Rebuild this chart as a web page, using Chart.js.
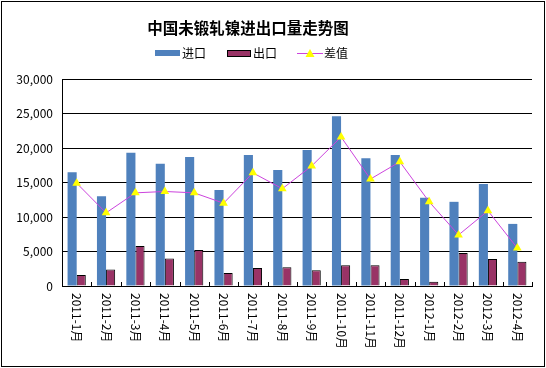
<!DOCTYPE html>
<html>
<head>
<meta charset="utf-8">
<script src="https://cdn.jsdelivr.net/npm/chart.js@4/dist/chart.umd.min.js"></script>
<style>
body { margin: 0; background: #fff; }
</style>
</head>
<body>
<canvas id="grafico" width="546" height="368"></canvas>
<script>
// datos
var titulo = "中国未锻轧镍进出口量走势图";
var meses = ["2011-1月", "2011-2月", "2011-3月", "2011-4月", "2011-5月", "2011-6月", "2011-7月", "2011-8月",
    "2011-9月", "2011-10月", "2011-11月", "2011-12月", "2012-1月", "2012-2月", "2012-3月", "2012-4月"];
var importacion = [16500, 13000, 19300, 17700, 18700, 13900, 19000, 16800, 19700, 24600, 18500, 19000, 12800, 12200, 14800, 9000];
var exportacion = [1600, 2400, 5800, 4000, 5200, 1900, 2600, 2700, 2300, 3000, 3000, 1000, 600, 4800, 3900, 3500];
var diferencia = [14900, 10600, 13500, 13700, 13500, 12000, 16400, 14100, 17400, 21600, 15500, 18000, 12200, 7400, 10900, 5500];
var ticksY = [0, 5000, 10000, 15000, 20000, 25000, 30000];

var fuente = "'Noto Sans CJK SC', 'Liberation Sans', sans-serif";

// titulo, leyenda, etiquetas giradas y marco
var extras = {
    id: 'extras',
    beforeDraw: function (chart) {
        var ctx = chart.ctx;
        ctx.save();
        ctx.fillStyle = '#fff';
        ctx.fillRect(0, 0, chart.width, chart.height);
        ctx.restore();
    },
    afterDraw: function (chart) {
        var ctx = chart.ctx;
        var area = chart.chartArea;
        var x = chart.scales.x;
        ctx.save();

        // marco exterior
        ctx.strokeStyle = '#000';
        ctx.lineWidth = 1;
        ctx.strokeRect(1.5, 1.5, chart.width - 3, chart.height - 3);

        // titulo
        ctx.fillStyle = '#000';
        ctx.font = "bold 15.5px " + fuente;
        ctx.textAlign = 'center';
        ctx.textBaseline = 'middle';
        ctx.fillText(titulo, 248, 28);

        // leyenda
        var ds = chart.data.datasets;
        ctx.font = "12px " + fuente;
        ctx.textAlign = 'left';
        ctx.fillStyle = ds[0].backgroundColor;
        ctx.fillRect(155, 50, 25, 6);
        ctx.fillStyle = ds[1].backgroundColor;
        ctx.fillRect(227, 50, 23, 6);
        ctx.strokeStyle = '#000';
        ctx.strokeRect(227.5, 50.5, 23, 6);
        ctx.strokeStyle = ds[2].borderColor;
        ctx.beginPath();
        ctx.moveTo(297, 53.5);
        ctx.lineTo(323, 53.5);
        ctx.stroke();
        ctx.fillStyle = ds[2].pointBackgroundColor;
        ctx.beginPath();
        ctx.moveTo(310, 49);
        ctx.lineTo(314.5, 57);
        ctx.lineTo(305.5, 57);
        ctx.closePath();
        ctx.fill();
        ctx.fillStyle = '#000';
        ctx.fillText(ds[0].label, 182, 53);
        ctx.fillText(ds[1].label, 253, 53);
        ctx.fillText(ds[2].label, 324, 53);

        // marcas del eje x hacia dentro
        var paso = (area.right - area.left) / meses.length;
        ctx.strokeStyle = '#000';
        ctx.beginPath();
        for (var i = 1; i <= meses.length; i++) {
            var px = Math.round(area.left + paso * i) + 0.5;
            ctx.moveTo(px, area.bottom);
            ctx.lineTo(px, area.bottom - 4);
        }
        ctx.stroke();

        // etiquetas del eje x giradas
        ctx.font = "12px " + fuente;
        ctx.textBaseline = 'middle';
        ctx.textAlign = 'left';
        for (var j = 0; j < meses.length; j++) {
            ctx.save();
            ctx.translate(x.getPixelForValue(j), area.bottom + 7);
            ctx.rotate(Math.PI / 2);
            ctx.fillText(meses[j], 0, 0);
            ctx.restore();
        }
        ctx.restore();
    }
};

var ctx = document.getElementById('grafico').getContext('2d');
new Chart(ctx, {
    type: 'bar',
    data: {
        labels: meses,
        datasets: [{
            label: '进口',
            data: importacion,
            backgroundColor: '#4F81BD',
            borderWidth: 0,
            order: 1
        }, {
            label: '出口',
            data: exportacion,
            backgroundColor: '#993366',
            borderColor: '#000',
            borderWidth: 1,
            order: 1
        }, {
            type: 'line',
            label: '差值',
            data: diferencia,
            borderColor: '#CC44DD',
            borderWidth: 1,
            pointStyle: 'triangle',
            pointRadius: 5,
            pointBackgroundColor: '#FFFF00',
            pointBorderColor: '#FFFF00',
            pointBorderWidth: 0,
            tension: 0,
            order: 0
        }]
    },
    options: {
        responsive: false,
        animation: false,
        devicePixelRatio: 1,
        layout: { padding: { top: 79, right: 14, bottom: 0, left: 0 } },
        datasets: {
            bar: { categoryPercentage: 0.62, barPercentage: 1 }
        },
        plugins: {
            legend: { display: false },
            title: { display: false },
            tooltip: { enabled: false }
        },
        scales: {
            x: {
                offset: true,
                grid: { display: false, drawTicks: false },
                border: { color: '#000', width: 1 },
                ticks: { display: false },
                afterFit: function (scale) { scale.height = 82; }
            },
            y: {
                min: 0,
                max: 30000,
                afterBuildTicks: function (scale) {
                    scale.ticks = ticksY.map(function (v) { return { value: v }; });
                },
                grid: { color: '#000', drawTicks: false },
                border: { color: '#000', width: 1 },
                ticks: {
                    padding: 9,
                    color: '#000',
                    font: { family: fuente, size: 12 },
                    callback: function (v) { return v.toLocaleString('en-US'); }
                },
                afterFit: function (scale) { scale.width = 62; }
            }
        }
    },
    plugins: [extras]
});
</script>
</body>
</html>
